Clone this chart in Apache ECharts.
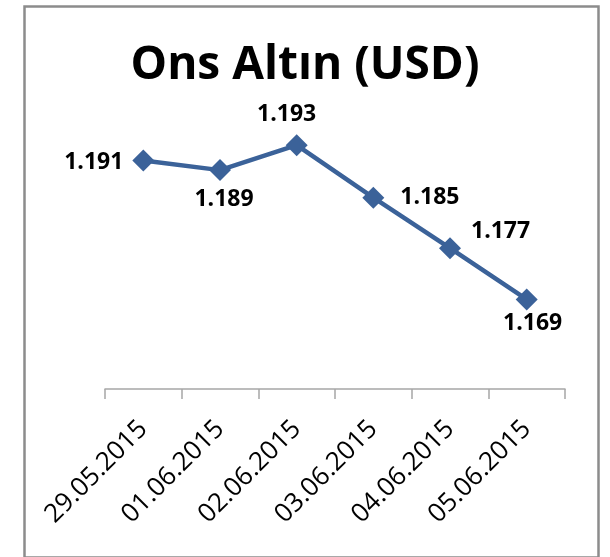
<!DOCTYPE html>
<html>
<head>
<meta charset="utf-8">
<script src="https://cdn.jsdelivr.net/npm/echarts@6/dist/echarts.min.js"></script>
<style>
  html, body { margin: 0; padding: 0; background: #fff; }
  #chart { width: 610px; height: 557px; }
</style>
</head>
<body>
<div id="chart"></div>
<script>
// tarihler ve ons altın fiyatları (USD)
const dates = ["29.05.2015", "01.06.2015", "02.06.2015", "03.06.2015", "04.06.2015", "05.06.2015"];
const prices = [1190.7, 1189.2, 1193.1, 1184.9, 1177.0, 1169.0];

const BLUE = "#3b6299";

// etiket yerleşimi (Excel'deki gibi)
const labelPlace = [
  { position: "left", distance: 9, offset: [0, 2] },
  { position: "bottom", distance: 7, offset: [4, 0] },
  { position: "top", distance: 8, offset: [-10, 0] },
  { position: "right", distance: 16 },
  { position: "right", distance: 10, offset: [0, -17] },
  { position: "bottom", distance: 2, offset: [6, 0] },
];

const fmtTR = (v) => {
  const s = String(Math.round(v));
  return s.slice(0, -3) + "." + s.slice(-3);
};

const chart = echarts.init(document.getElementById("chart"));
chart.setOption({
  animation: false,
  backgroundColor: "#fff",
  title: {
    text: "Ons Altın (USD)",
    left: "center", top: 38,
    textStyle: { fontFamily: "Open Sans", fontWeight: "bold", fontSize: 46, color: "#000" },
  },
  graphic: [{
    type: "rect", left: 22, top: 4,
    shape: { width: 574, height: 551 },
    style: { fill: "none", stroke: "#8c8c8c", lineWidth: 2.5 },
    silent: true,
  }],
  grid: { left: 105, right: 45, top: 133, bottom: 168 },
  xAxis: {
    type: "category", data: dates, boundaryGap: true,
    axisLine: { lineStyle: { color: "#a6a6a6", width: 1.5 } },
    axisTick: { show: true, length: 10, interval: 0, lineStyle: { color: "#a6a6a6", width: 1.5 } },
    axisLabel: { rotate: 45, margin: 36, interval: 0, fontFamily: "Open Sans", fontSize: 26, color: "#000" },
  },
  yAxis: { type: "value", min: 1155, max: 1195, show: false, splitLine: { show: false } },
  series: [{
    type: "line",
    data: prices.map((v, i) => ({ value: v, label: labelPlace[i] })),
    symbol: "diamond", symbolSize: 22,
    lineStyle: { color: BLUE, width: 4.5 },
    itemStyle: { color: BLUE },
    label: {
      show: true, fontFamily: "Open Sans", fontWeight: "bold", fontSize: 23, color: "#000",
      formatter: (p) => fmtTR(p.value),
    },
  }],
});
</script>
</body>
</html>
